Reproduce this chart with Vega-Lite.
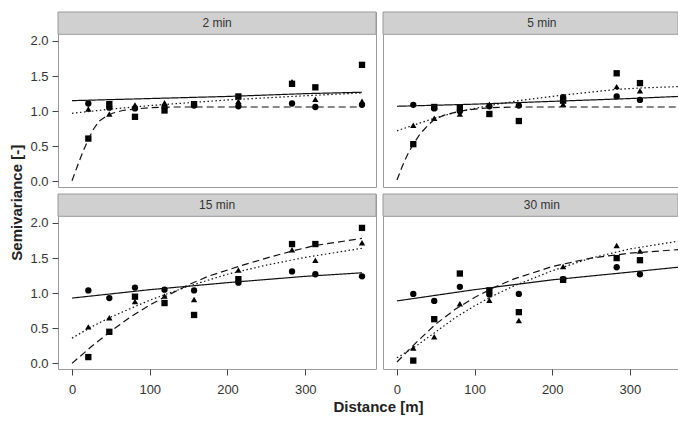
{
  "$schema": "https://vega.github.io/schema/vega-lite/v6.json",
  "padding": {"left": 10, "top": 11, "right": 0, "bottom": 0},
  "title": {"text": "Semivariance [-]", "orient": "left", "anchor": "middle", "fontSize": 15, "fontWeight": "bold", "color": "#222222", "font": "Liberation Sans", "offset": 4, "dx": 10},
  "datasets": {
    "panels": [{"panel": "2 min"}, {"panel": "5 min"}, {"panel": "15 min"}, {"panel": "30 min"}],
    "points": [
      {"panel": "2 min", "series": "A", "lag": 21, "gamma": 1.11},
      {"panel": "2 min", "series": "A", "lag": 48, "gamma": 1.05},
      {"panel": "2 min", "series": "A", "lag": 81, "gamma": 1.04},
      {"panel": "2 min", "series": "A", "lag": 119, "gamma": 1.06},
      {"panel": "2 min", "series": "A", "lag": 157, "gamma": 1.08},
      {"panel": "2 min", "series": "A", "lag": 214, "gamma": 1.07},
      {"panel": "2 min", "series": "A", "lag": 283, "gamma": 1.11},
      {"panel": "2 min", "series": "A", "lag": 313, "gamma": 1.06},
      {"panel": "2 min", "series": "A", "lag": 373, "gamma": 1.09},
      {"panel": "2 min", "series": "B", "lag": 21, "gamma": 1.03},
      {"panel": "2 min", "series": "B", "lag": 48, "gamma": 0.96},
      {"panel": "2 min", "series": "B", "lag": 81, "gamma": 1.09},
      {"panel": "2 min", "series": "B", "lag": 119, "gamma": 1.12},
      {"panel": "2 min", "series": "B", "lag": 157, "gamma": 1.09},
      {"panel": "2 min", "series": "B", "lag": 214, "gamma": 1.14},
      {"panel": "2 min", "series": "B", "lag": 283, "gamma": 1.42},
      {"panel": "2 min", "series": "B", "lag": 313, "gamma": 1.17},
      {"panel": "2 min", "series": "B", "lag": 373, "gamma": 1.14},
      {"panel": "2 min", "series": "C", "lag": 21, "gamma": 0.61},
      {"panel": "2 min", "series": "C", "lag": 48, "gamma": 1.10},
      {"panel": "2 min", "series": "C", "lag": 81, "gamma": 0.92},
      {"panel": "2 min", "series": "C", "lag": 119, "gamma": 1.01},
      {"panel": "2 min", "series": "C", "lag": 157, "gamma": 1.10},
      {"panel": "2 min", "series": "C", "lag": 214, "gamma": 1.21},
      {"panel": "2 min", "series": "C", "lag": 283, "gamma": 1.39},
      {"panel": "2 min", "series": "C", "lag": 313, "gamma": 1.34},
      {"panel": "2 min", "series": "C", "lag": 373, "gamma": 1.66},
      {"panel": "5 min", "series": "A", "lag": 21, "gamma": 1.09},
      {"panel": "5 min", "series": "A", "lag": 48, "gamma": 1.04},
      {"panel": "5 min", "series": "A", "lag": 81, "gamma": 1.00},
      {"panel": "5 min", "series": "A", "lag": 119, "gamma": 1.07},
      {"panel": "5 min", "series": "A", "lag": 157, "gamma": 1.08},
      {"panel": "5 min", "series": "A", "lag": 214, "gamma": 1.20},
      {"panel": "5 min", "series": "A", "lag": 283, "gamma": 1.21},
      {"panel": "5 min", "series": "A", "lag": 313, "gamma": 1.16},
      {"panel": "5 min", "series": "B", "lag": 21, "gamma": 0.80},
      {"panel": "5 min", "series": "B", "lag": 48, "gamma": 0.90},
      {"panel": "5 min", "series": "B", "lag": 81, "gamma": 0.96},
      {"panel": "5 min", "series": "B", "lag": 119, "gamma": 1.10},
      {"panel": "5 min", "series": "B", "lag": 157, "gamma": 1.10},
      {"panel": "5 min", "series": "B", "lag": 214, "gamma": 1.10},
      {"panel": "5 min", "series": "B", "lag": 283, "gamma": 1.35},
      {"panel": "5 min", "series": "B", "lag": 313, "gamma": 1.29},
      {"panel": "5 min", "series": "C", "lag": 21, "gamma": 0.53},
      {"panel": "5 min", "series": "C", "lag": 48, "gamma": 1.06},
      {"panel": "5 min", "series": "C", "lag": 81, "gamma": 1.05},
      {"panel": "5 min", "series": "C", "lag": 119, "gamma": 0.96},
      {"panel": "5 min", "series": "C", "lag": 157, "gamma": 0.86},
      {"panel": "5 min", "series": "C", "lag": 214, "gamma": 1.15},
      {"panel": "5 min", "series": "C", "lag": 283, "gamma": 1.54},
      {"panel": "5 min", "series": "C", "lag": 313, "gamma": 1.40},
      {"panel": "15 min", "series": "A", "lag": 21, "gamma": 1.04},
      {"panel": "15 min", "series": "A", "lag": 48, "gamma": 0.93},
      {"panel": "15 min", "series": "A", "lag": 81, "gamma": 1.08},
      {"panel": "15 min", "series": "A", "lag": 119, "gamma": 1.05},
      {"panel": "15 min", "series": "A", "lag": 157, "gamma": 1.04},
      {"panel": "15 min", "series": "A", "lag": 214, "gamma": 1.15},
      {"panel": "15 min", "series": "A", "lag": 283, "gamma": 1.31},
      {"panel": "15 min", "series": "A", "lag": 313, "gamma": 1.27},
      {"panel": "15 min", "series": "A", "lag": 373, "gamma": 1.24},
      {"panel": "15 min", "series": "B", "lag": 21, "gamma": 0.52},
      {"panel": "15 min", "series": "B", "lag": 48, "gamma": 0.65},
      {"panel": "15 min", "series": "B", "lag": 81, "gamma": 0.88},
      {"panel": "15 min", "series": "B", "lag": 119, "gamma": 0.96},
      {"panel": "15 min", "series": "B", "lag": 157, "gamma": 0.91},
      {"panel": "15 min", "series": "B", "lag": 214, "gamma": 1.33},
      {"panel": "15 min", "series": "B", "lag": 283, "gamma": 1.62},
      {"panel": "15 min", "series": "B", "lag": 313, "gamma": 1.47},
      {"panel": "15 min", "series": "B", "lag": 373, "gamma": 1.72},
      {"panel": "15 min", "series": "C", "lag": 21, "gamma": 0.09},
      {"panel": "15 min", "series": "C", "lag": 48, "gamma": 0.45},
      {"panel": "15 min", "series": "C", "lag": 81, "gamma": 0.95},
      {"panel": "15 min", "series": "C", "lag": 119, "gamma": 0.86},
      {"panel": "15 min", "series": "C", "lag": 157, "gamma": 0.69},
      {"panel": "15 min", "series": "C", "lag": 214, "gamma": 1.20},
      {"panel": "15 min", "series": "C", "lag": 283, "gamma": 1.70},
      {"panel": "15 min", "series": "C", "lag": 313, "gamma": 1.70},
      {"panel": "15 min", "series": "C", "lag": 373, "gamma": 1.93},
      {"panel": "30 min", "series": "A", "lag": 21, "gamma": 0.99},
      {"panel": "30 min", "series": "A", "lag": 48, "gamma": 0.89},
      {"panel": "30 min", "series": "A", "lag": 81, "gamma": 1.09},
      {"panel": "30 min", "series": "A", "lag": 119, "gamma": 0.98},
      {"panel": "30 min", "series": "A", "lag": 157, "gamma": 0.99},
      {"panel": "30 min", "series": "A", "lag": 214, "gamma": 1.20},
      {"panel": "30 min", "series": "A", "lag": 283, "gamma": 1.37},
      {"panel": "30 min", "series": "A", "lag": 313, "gamma": 1.27},
      {"panel": "30 min", "series": "B", "lag": 21, "gamma": 0.22},
      {"panel": "30 min", "series": "B", "lag": 48, "gamma": 0.38},
      {"panel": "30 min", "series": "B", "lag": 81, "gamma": 0.85},
      {"panel": "30 min", "series": "B", "lag": 119, "gamma": 0.90},
      {"panel": "30 min", "series": "B", "lag": 157, "gamma": 0.61},
      {"panel": "30 min", "series": "B", "lag": 214, "gamma": 1.38},
      {"panel": "30 min", "series": "B", "lag": 283, "gamma": 1.68},
      {"panel": "30 min", "series": "B", "lag": 313, "gamma": 1.60},
      {"panel": "30 min", "series": "C", "lag": 21, "gamma": 0.04},
      {"panel": "30 min", "series": "C", "lag": 48, "gamma": 0.63},
      {"panel": "30 min", "series": "C", "lag": 81, "gamma": 1.28},
      {"panel": "30 min", "series": "C", "lag": 119, "gamma": 1.04},
      {"panel": "30 min", "series": "C", "lag": 157, "gamma": 0.73},
      {"panel": "30 min", "series": "C", "lag": 214, "gamma": 1.19},
      {"panel": "30 min", "series": "C", "lag": 283, "gamma": 1.50},
      {"panel": "30 min", "series": "C", "lag": 313, "gamma": 1.47}
    ],
    "fits": [
      {"panel": "2 min", "series": "A", "lag": 0, "gamma": 1.15},
      {"panel": "2 min", "series": "A", "lag": 100, "gamma": 1.18},
      {"panel": "2 min", "series": "A", "lag": 200, "gamma": 1.21},
      {"panel": "2 min", "series": "A", "lag": 300, "gamma": 1.25},
      {"panel": "2 min", "series": "A", "lag": 373, "gamma": 1.27},
      {"panel": "2 min", "series": "B", "lag": 0, "gamma": 0.97},
      {"panel": "2 min", "series": "B", "lag": 25, "gamma": 1.0},
      {"panel": "2 min", "series": "B", "lag": 50, "gamma": 1.03},
      {"panel": "2 min", "series": "B", "lag": 100, "gamma": 1.08},
      {"panel": "2 min", "series": "B", "lag": 150, "gamma": 1.12},
      {"panel": "2 min", "series": "B", "lag": 200, "gamma": 1.16},
      {"panel": "2 min", "series": "B", "lag": 250, "gamma": 1.19},
      {"panel": "2 min", "series": "B", "lag": 300, "gamma": 1.22},
      {"panel": "2 min", "series": "B", "lag": 373, "gamma": 1.26},
      {"panel": "2 min", "series": "C", "lag": 0, "gamma": 0.01},
      {"panel": "2 min", "series": "C", "lag": 7, "gamma": 0.22},
      {"panel": "2 min", "series": "C", "lag": 14, "gamma": 0.42},
      {"panel": "2 min", "series": "C", "lag": 21, "gamma": 0.60},
      {"panel": "2 min", "series": "C", "lag": 28, "gamma": 0.75},
      {"panel": "2 min", "series": "C", "lag": 35, "gamma": 0.86},
      {"panel": "2 min", "series": "C", "lag": 43, "gamma": 0.92},
      {"panel": "2 min", "series": "C", "lag": 52, "gamma": 0.97},
      {"panel": "2 min", "series": "C", "lag": 65, "gamma": 1.01},
      {"panel": "2 min", "series": "C", "lag": 80, "gamma": 1.03},
      {"panel": "2 min", "series": "C", "lag": 100, "gamma": 1.05},
      {"panel": "2 min", "series": "C", "lag": 130, "gamma": 1.06},
      {"panel": "2 min", "series": "C", "lag": 373, "gamma": 1.06},
      {"panel": "5 min", "series": "A", "lag": 0, "gamma": 1.07},
      {"panel": "5 min", "series": "A", "lag": 100, "gamma": 1.10},
      {"panel": "5 min", "series": "A", "lag": 200, "gamma": 1.14},
      {"panel": "5 min", "series": "A", "lag": 300, "gamma": 1.18},
      {"panel": "5 min", "series": "A", "lag": 362, "gamma": 1.21},
      {"panel": "5 min", "series": "B", "lag": 0, "gamma": 0.72},
      {"panel": "5 min", "series": "B", "lag": 21, "gamma": 0.80},
      {"panel": "5 min", "series": "B", "lag": 48, "gamma": 0.90},
      {"panel": "5 min", "series": "B", "lag": 81, "gamma": 1.0},
      {"panel": "5 min", "series": "B", "lag": 119, "gamma": 1.08},
      {"panel": "5 min", "series": "B", "lag": 157, "gamma": 1.15},
      {"panel": "5 min", "series": "B", "lag": 214, "gamma": 1.23},
      {"panel": "5 min", "series": "B", "lag": 283, "gamma": 1.31},
      {"panel": "5 min", "series": "B", "lag": 313, "gamma": 1.33},
      {"panel": "5 min", "series": "B", "lag": 362, "gamma": 1.35},
      {"panel": "5 min", "series": "C", "lag": 0, "gamma": 0.02},
      {"panel": "5 min", "series": "C", "lag": 7, "gamma": 0.22},
      {"panel": "5 min", "series": "C", "lag": 14, "gamma": 0.39},
      {"panel": "5 min", "series": "C", "lag": 21, "gamma": 0.53},
      {"panel": "5 min", "series": "C", "lag": 30, "gamma": 0.68},
      {"panel": "5 min", "series": "C", "lag": 40, "gamma": 0.80},
      {"panel": "5 min", "series": "C", "lag": 48, "gamma": 0.88},
      {"panel": "5 min", "series": "C", "lag": 60, "gamma": 0.94},
      {"panel": "5 min", "series": "C", "lag": 81, "gamma": 1.0},
      {"panel": "5 min", "series": "C", "lag": 100, "gamma": 1.03},
      {"panel": "5 min", "series": "C", "lag": 120, "gamma": 1.05},
      {"panel": "5 min", "series": "C", "lag": 157, "gamma": 1.06},
      {"panel": "5 min", "series": "C", "lag": 362, "gamma": 1.06},
      {"panel": "15 min", "series": "A", "lag": 0, "gamma": 0.93},
      {"panel": "15 min", "series": "A", "lag": 100, "gamma": 1.05},
      {"panel": "15 min", "series": "A", "lag": 200, "gamma": 1.15},
      {"panel": "15 min", "series": "A", "lag": 300, "gamma": 1.24},
      {"panel": "15 min", "series": "A", "lag": 373, "gamma": 1.29},
      {"panel": "15 min", "series": "B", "lag": 0, "gamma": 0.36},
      {"panel": "15 min", "series": "B", "lag": 25, "gamma": 0.52},
      {"panel": "15 min", "series": "B", "lag": 50, "gamma": 0.66},
      {"panel": "15 min", "series": "B", "lag": 75, "gamma": 0.78},
      {"panel": "15 min", "series": "B", "lag": 100, "gamma": 0.90},
      {"panel": "15 min", "series": "B", "lag": 125, "gamma": 1.0},
      {"panel": "15 min", "series": "B", "lag": 150, "gamma": 1.10},
      {"panel": "15 min", "series": "B", "lag": 200, "gamma": 1.27},
      {"panel": "15 min", "series": "B", "lag": 250, "gamma": 1.40},
      {"panel": "15 min", "series": "B", "lag": 300, "gamma": 1.51},
      {"panel": "15 min", "series": "B", "lag": 373, "gamma": 1.64},
      {"panel": "15 min", "series": "C", "lag": 0, "gamma": 0.0},
      {"panel": "15 min", "series": "C", "lag": 25, "gamma": 0.24},
      {"panel": "15 min", "series": "C", "lag": 50, "gamma": 0.46},
      {"panel": "15 min", "series": "C", "lag": 75, "gamma": 0.66},
      {"panel": "15 min", "series": "C", "lag": 100, "gamma": 0.83},
      {"panel": "15 min", "series": "C", "lag": 125, "gamma": 0.98},
      {"panel": "15 min", "series": "C", "lag": 150, "gamma": 1.12},
      {"panel": "15 min", "series": "C", "lag": 175, "gamma": 1.24},
      {"panel": "15 min", "series": "C", "lag": 214, "gamma": 1.38},
      {"panel": "15 min", "series": "C", "lag": 250, "gamma": 1.50},
      {"panel": "15 min", "series": "C", "lag": 283, "gamma": 1.60},
      {"panel": "15 min", "series": "C", "lag": 313, "gamma": 1.68},
      {"panel": "15 min", "series": "C", "lag": 373, "gamma": 1.78},
      {"panel": "30 min", "series": "A", "lag": 0, "gamma": 0.89},
      {"panel": "30 min", "series": "A", "lag": 100, "gamma": 1.05},
      {"panel": "30 min", "series": "A", "lag": 200, "gamma": 1.19},
      {"panel": "30 min", "series": "A", "lag": 300, "gamma": 1.30},
      {"panel": "30 min", "series": "A", "lag": 362, "gamma": 1.37},
      {"panel": "30 min", "series": "B", "lag": 0, "gamma": 0.08},
      {"panel": "30 min", "series": "B", "lag": 25, "gamma": 0.25},
      {"panel": "30 min", "series": "B", "lag": 50, "gamma": 0.45},
      {"panel": "30 min", "series": "B", "lag": 75, "gamma": 0.65},
      {"panel": "30 min", "series": "B", "lag": 100, "gamma": 0.82},
      {"panel": "30 min", "series": "B", "lag": 125, "gamma": 0.97},
      {"panel": "30 min", "series": "B", "lag": 150, "gamma": 1.10},
      {"panel": "30 min", "series": "B", "lag": 200, "gamma": 1.32},
      {"panel": "30 min", "series": "B", "lag": 250, "gamma": 1.50},
      {"panel": "30 min", "series": "B", "lag": 300, "gamma": 1.63},
      {"panel": "30 min", "series": "B", "lag": 362, "gamma": 1.74},
      {"panel": "30 min", "series": "C", "lag": 0, "gamma": 0.02},
      {"panel": "30 min", "series": "C", "lag": 25, "gamma": 0.30},
      {"panel": "30 min", "series": "C", "lag": 50, "gamma": 0.56},
      {"panel": "30 min", "series": "C", "lag": 75, "gamma": 0.77},
      {"panel": "30 min", "series": "C", "lag": 100, "gamma": 0.94},
      {"panel": "30 min", "series": "C", "lag": 125, "gamma": 1.08},
      {"panel": "30 min", "series": "C", "lag": 150, "gamma": 1.20},
      {"panel": "30 min", "series": "C", "lag": 200, "gamma": 1.38},
      {"panel": "30 min", "series": "C", "lag": 250, "gamma": 1.50},
      {"panel": "30 min", "series": "C", "lag": 300, "gamma": 1.57},
      {"panel": "30 min", "series": "C", "lag": 362, "gamma": 1.62}
    ]
  },
  "spacing": 4,
  "vconcat": [
    {
      "spacing": 7,
      "bounds": "flush",
      "hconcat": [
        {
          "width": 318, "height": 175,
          "layer": [
            {"data": {"name": "points"}, "transform": [{"filter": "datum.panel === '2 min'"}],
             "mark": {"type": "point", "filled": true, "color": "#000000", "opacity": 1, "size": 40},
             "encoding": {
               "x": {"field": "lag", "type": "quantitative", "scale": {"domain": [-18, 391], "nice": false, "zero": false}, "axis": null},
               "y": {"field": "gamma", "type": "quantitative", "scale": {"domain": [-0.08, 2.413], "nice": false, "zero": false},
                     "axis": {"values": [0, 0.5, 1, 1.5, 2], "format": ".1f", "title": null}},
               "shape": {"field": "series", "type": "nominal", "scale": {"domain": ["A", "B", "C"], "range": ["circle", "triangle-up", "square"]}, "legend": null}}},
            {"data": {"name": "fits"}, "transform": [{"filter": "datum.panel === '2 min'"}],
             "mark": {"type": "line", "strokeWidth": 1.2, "color": "#111111"},
             "encoding": {
               "x": {"field": "lag", "type": "quantitative"},
               "y": {"field": "gamma", "type": "quantitative"},
               "strokeDash": {"field": "series", "type": "nominal", "scale": {"domain": ["A", "B", "C"], "range": [[1, 0], [1.5, 2.5], [7, 4]]}, "legend": null}}},
            {"data": {"name": "panels"}, "transform": [{"filter": "datum.panel === '2 min'"}],
             "mark": {"type": "rect", "fill": "#d0d0d0", "stroke": "#9a9a9a", "strokeWidth": 1},
             "encoding": {"x": {"datum": -18, "type": "quantitative"}, "x2": {"datum": 391}, "y": {"datum": 2.095, "type": "quantitative"}, "y2": {"datum": 2.413}}},
            {"data": {"name": "panels"}, "transform": [{"filter": "datum.panel === '2 min'"}],
             "mark": {"type": "text", "fontSize": 12, "fill": "#333333", "baseline": "middle", "align": "center"},
             "encoding": {"x": {"datum": 186.6, "type": "quantitative"}, "y": {"datum": 2.254, "type": "quantitative"}, "text": {"field": "panel", "type": "nominal"}}}
          ]
        },
        {
          "width": 295, "height": 175,
          "layer": [
            {"data": {"name": "points"}, "transform": [{"filter": "datum.panel === '5 min'"}],
             "mark": {"type": "point", "filled": true, "color": "#000000", "opacity": 1, "size": 40},
             "encoding": {
               "x": {"field": "lag", "type": "quantitative", "scale": {"domain": [-18, 362], "nice": false, "zero": false}, "axis": null},
               "y": {"field": "gamma", "type": "quantitative", "scale": {"domain": [-0.08, 2.413], "nice": false, "zero": false}, "axis": null},
               "shape": {"field": "series", "type": "nominal", "scale": {"domain": ["A", "B", "C"], "range": ["circle", "triangle-up", "square"]}, "legend": null}}},
            {"data": {"name": "fits"}, "transform": [{"filter": "datum.panel === '5 min'"}],
             "mark": {"type": "line", "strokeWidth": 1.2, "color": "#111111"},
             "encoding": {
               "x": {"field": "lag", "type": "quantitative"},
               "y": {"field": "gamma", "type": "quantitative"},
               "strokeDash": {"field": "series", "type": "nominal", "scale": {"domain": ["A", "B", "C"], "range": [[1, 0], [1.5, 2.5], [7, 4]]}, "legend": null}}},
            {"data": {"name": "panels"}, "transform": [{"filter": "datum.panel === '5 min'"}],
             "mark": {"type": "rect", "fill": "#d0d0d0", "stroke": "#9a9a9a", "strokeWidth": 1},
             "encoding": {"x": {"datum": -18, "type": "quantitative"}, "x2": {"datum": 362}, "y": {"datum": 2.095, "type": "quantitative"}, "y2": {"datum": 2.413}}},
            {"data": {"name": "panels"}, "transform": [{"filter": "datum.panel === '5 min'"}],
             "mark": {"type": "text", "fontSize": 12, "fill": "#333333", "baseline": "middle", "align": "center"},
             "encoding": {"x": {"datum": 186.6, "type": "quantitative"}, "y": {"datum": 2.254, "type": "quantitative"}, "text": {"field": "panel", "type": "nominal"}}}
          ]
        }
      ]
    },
    {
      "spacing": 7,
      "bounds": "flush",
      "hconcat": [
        {
          "width": 318, "height": 175,
          "layer": [
            {"data": {"name": "points"}, "transform": [{"filter": "datum.panel === '15 min'"}],
             "mark": {"type": "point", "filled": true, "color": "#000000", "opacity": 1, "size": 40},
             "encoding": {
               "x": {"field": "lag", "type": "quantitative", "scale": {"domain": [-18, 391], "nice": false, "zero": false},
                     "axis": {"values": [0, 100, 200, 300], "title": "Distance [m]", "titleX": 320, "titleY": 42, "titleAlign": "center", "titleBaseline": "alphabetic"}},
               "y": {"field": "gamma", "type": "quantitative", "scale": {"domain": [-0.08, 2.413], "nice": false, "zero": false},
                     "axis": {"values": [0, 0.5, 1, 1.5, 2], "format": ".1f", "title": null}},
               "shape": {"field": "series", "type": "nominal", "scale": {"domain": ["A", "B", "C"], "range": ["circle", "triangle-up", "square"]}, "legend": null}}},
            {"data": {"name": "fits"}, "transform": [{"filter": "datum.panel === '15 min'"}],
             "mark": {"type": "line", "strokeWidth": 1.2, "color": "#111111"},
             "encoding": {
               "x": {"field": "lag", "type": "quantitative"},
               "y": {"field": "gamma", "type": "quantitative"},
               "strokeDash": {"field": "series", "type": "nominal", "scale": {"domain": ["A", "B", "C"], "range": [[1, 0], [1.5, 2.5], [7, 4]]}, "legend": null}}},
            {"data": {"name": "panels"}, "transform": [{"filter": "datum.panel === '15 min'"}],
             "mark": {"type": "rect", "fill": "#d0d0d0", "stroke": "#9a9a9a", "strokeWidth": 1},
             "encoding": {"x": {"datum": -18, "type": "quantitative"}, "x2": {"datum": 391}, "y": {"datum": 2.095, "type": "quantitative"}, "y2": {"datum": 2.413}}},
            {"data": {"name": "panels"}, "transform": [{"filter": "datum.panel === '15 min'"}],
             "mark": {"type": "text", "fontSize": 12, "fill": "#333333", "baseline": "middle", "align": "center"},
             "encoding": {"x": {"datum": 186.6, "type": "quantitative"}, "y": {"datum": 2.254, "type": "quantitative"}, "text": {"field": "panel", "type": "nominal"}}}
          ]
        },
        {
          "width": 295, "height": 175,
          "layer": [
            {"data": {"name": "points"}, "transform": [{"filter": "datum.panel === '30 min'"}],
             "mark": {"type": "point", "filled": true, "color": "#000000", "opacity": 1, "size": 40},
             "encoding": {
               "x": {"field": "lag", "type": "quantitative", "scale": {"domain": [-18, 362], "nice": false, "zero": false},
                     "axis": {"values": [0, 100, 200, 300], "title": null}},
               "y": {"field": "gamma", "type": "quantitative", "scale": {"domain": [-0.08, 2.413], "nice": false, "zero": false}, "axis": null},
               "shape": {"field": "series", "type": "nominal", "scale": {"domain": ["A", "B", "C"], "range": ["circle", "triangle-up", "square"]}, "legend": null}}},
            {"data": {"name": "fits"}, "transform": [{"filter": "datum.panel === '30 min'"}],
             "mark": {"type": "line", "strokeWidth": 1.2, "color": "#111111"},
             "encoding": {
               "x": {"field": "lag", "type": "quantitative"},
               "y": {"field": "gamma", "type": "quantitative"},
               "strokeDash": {"field": "series", "type": "nominal", "scale": {"domain": ["A", "B", "C"], "range": [[1, 0], [1.5, 2.5], [7, 4]]}, "legend": null}}},
            {"data": {"name": "panels"}, "transform": [{"filter": "datum.panel === '30 min'"}],
             "mark": {"type": "rect", "fill": "#d0d0d0", "stroke": "#9a9a9a", "strokeWidth": 1},
             "encoding": {"x": {"datum": -18, "type": "quantitative"}, "x2": {"datum": 362}, "y": {"datum": 2.095, "type": "quantitative"}, "y2": {"datum": 2.413}}},
            {"data": {"name": "panels"}, "transform": [{"filter": "datum.panel === '30 min'"}],
             "mark": {"type": "text", "fontSize": 12, "fill": "#333333", "baseline": "middle", "align": "center"},
             "encoding": {"x": {"datum": 186.6, "type": "quantitative"}, "y": {"datum": 2.254, "type": "quantitative"}, "text": {"field": "panel", "type": "nominal"}}}
          ]
        }
      ]
    }
  ],
  "config": {
    "font": "Liberation Sans",
    "view": {"stroke": "#9a9a9a", "strokeWidth": 1},
    "axis": {"grid": false, "domain": false, "tickColor": "#444444", "tickSize": 6, "labelColor": "#333333", "labelFontSize": 13, "labelFont": "Liberation Sans", "titleFont": "Liberation Sans", "titleFontSize": 15, "titleFontWeight": "bold", "titleColor": "#222222"},
    "axisX": {"labelPadding": 8},
    "axisY": {"labelPadding": 4}
  }
}
